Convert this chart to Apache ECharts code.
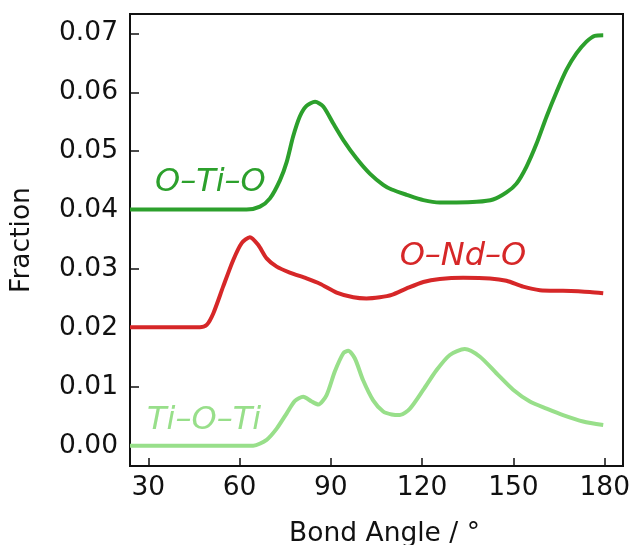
<!doctype html>
<html>
<head>
<meta charset="utf-8">
<title>Bond angle distribution</title>
<script src="https://cdn.jsdelivr.net/npm/echarts@6/dist/echarts.min.js"></script>
<style>
    html, body { margin: 0; padding: 0; background: #fff; }
    #main { width: 632px; height: 545px; }
</style>
</head>
<body>
<div id="main"></div>
<script>
// tick values
var xTicks = [30, 60, 90, 120, 150, 180];
var yTicks = [0, 0.01, 0.02, 0.03, 0.04, 0.05, 0.06, 0.07];

// O-Ti-O (offset by 0.04)
var otioAngle = [24, 35, 45, 55, 62.3, 66.7, 70, 73.3, 75.5, 77.6, 79.8, 82, 84.8, 87.5, 90.8, 94.1, 98.4, 102.8, 107.2, 110, 114.9, 120.4, 125.8, 131.3, 137.9, 143.3, 147.7, 151, 154.3, 157.6, 160.9, 164.2, 167.4, 170.7, 174, 176.7, 179.5];
var otioFrac  = [0.0401, 0.0401, 0.0401, 0.0401, 0.0401, 0.0406, 0.0420, 0.0451, 0.0482, 0.0525, 0.0559, 0.0577, 0.0584, 0.0576, 0.0547, 0.0519, 0.0488, 0.0462, 0.0443, 0.0435, 0.0426, 0.0417, 0.0413, 0.0413, 0.0414, 0.0418, 0.0430, 0.0445, 0.0474, 0.0513, 0.0559, 0.0601, 0.0638, 0.0666, 0.0686, 0.0696, 0.0697];

// O-Nd-O (offset by 0.02)
var ondoAngle = [24, 32, 40, 47, 49.2, 51.4, 54.6, 57.9, 60.7, 63.4, 66.1, 68.9, 72.2, 76.5, 82, 86.4, 91.9, 97.4, 101.7, 106.1, 110, 114.9, 120.4, 125.8, 133.5, 142.3, 147.7, 153.2, 158.7, 166.3, 175.1, 179.5];
var ondoFrac  = [0.0201, 0.0201, 0.0201, 0.0201, 0.0205, 0.0225, 0.0270, 0.0315, 0.0344, 0.0354, 0.0341, 0.0318, 0.0304, 0.0294, 0.0284, 0.0275, 0.0260, 0.0252, 0.0250, 0.0252, 0.0256, 0.0267, 0.0278, 0.0283, 0.0285, 0.0284, 0.0280, 0.0270, 0.0264, 0.0263, 0.0261, 0.0259];

// Ti-O-Ti
var tiotAngle = [24, 35, 45, 55, 64.5, 68.9, 72.2, 75.5, 78.2, 80.9, 83.7, 85.9, 88.6, 91.3, 94.1, 95.7, 97.9, 100.6, 103.9, 107.2, 110, 112.7, 116, 120.4, 124.7, 129.1, 134, 139, 144.4, 149.9, 155.4, 160.9, 166.3, 172.9, 179.5];
var tiotFrac  = [0, 0, 0, 0, 0, 0.0010, 0.0029, 0.0055, 0.0076, 0.0083, 0.0075, 0.0070, 0.0086, 0.0126, 0.0157, 0.0161, 0.0148, 0.0111, 0.0077, 0.0058, 0.0053, 0.0052, 0.0063, 0.0095, 0.0128, 0.0154, 0.0164, 0.0151, 0.0123, 0.0095, 0.0075, 0.0063, 0.0052, 0.0041, 0.0035];

var labels = [
    { text: 'O\u2013Ti\u2013O', at: [32.2, 0.0447], color: '#2ca02c' },
    { text: 'O\u2013Nd\u2013O', at: [112.6, 0.0321], color: '#d62728' },
    { text: 'Ti\u2013O\u2013Ti', at: [29.6, 0.0043], color: '#98df8a' }
];

function pairs(xs, ys) {
    return xs.map(function (x, i) { return [x, ys[i]]; });
}

function makeSeries(name, xs, ys, label) {
    return {
        name: name,
        type: 'line',
        data: pairs(xs, ys),
        smooth: 0.25,
        showSymbol: false,
        lineStyle: { color: label.color, width: 4 },
        markPoint: {
            symbol: 'circle',
            symbolSize: 0,
            data: [{ coord: label.at, value: label.text }],
            label: {
                show: true,
                position: 'inside',
                align: 'left',
                verticalAlign: 'middle',
                formatter: label.text,
                color: label.color,
                fontStyle: 'italic',
                fontSize: 32,
                fontFamily: 'DejaVu Sans'
            }
        }
    };
}

var chart = echarts.init(document.getElementById('main'));

chart.setOption({
    animation: false,
    textStyle: { fontFamily: 'DejaVu Sans' },
    grid: {
        left: 130, right: 9, top: 14, bottom: 79,
        outerBoundsMode: 'none',
        containLabel: false,
        show: true, borderColor: '#111', borderWidth: 2
    },
    xAxis: {
        type: 'value',
        min: 24, max: 186,
        name: 'Bond Angle / \u00b0',
        nameLocation: 'middle',
        nameGap: 55,
        nameTextStyle: { fontSize: 26.5, color: '#111', padding: [0, 0, 0, 16] },
        axisLine: { show: true, onZero: false, lineStyle: { color: '#111', width: 2 } },
        axisTick: { show: true, inside: true, length: 8, customValues: xTicks, lineStyle: { color: '#111', width: 1.5 } },
        axisLabel: { customValues: xTicks, fontSize: 26.5, color: '#111', margin: 9 },
        splitLine: { show: false }
    },
    yAxis: {
        type: 'value',
        min: -0.00345, max: 0.0733,
        name: 'Fraction',
        nameLocation: 'middle',
        nameGap: 94,
        nameTextStyle: { fontSize: 26.5, color: '#111' },
        axisLine: { show: true, onZero: false, lineStyle: { color: '#111', width: 2 } },
        axisTick: { show: true, inside: true, length: 9, customValues: yTicks, lineStyle: { color: '#111', width: 1.5 } },
        axisLabel: {
            customValues: yTicks, fontSize: 26.5, color: '#111', margin: 12,
            formatter: function (v) { return v.toFixed(2); }
        },
        splitLine: { show: false }
    },
    series: [
        makeSeries('O-Ti-O', otioAngle, otioFrac, labels[0]),
        makeSeries('O-Nd-O', ondoAngle, ondoFrac, labels[1]),
        makeSeries('Ti-O-Ti', tiotAngle, tiotFrac, labels[2])
    ]
});
</script>
</body>
</html>
